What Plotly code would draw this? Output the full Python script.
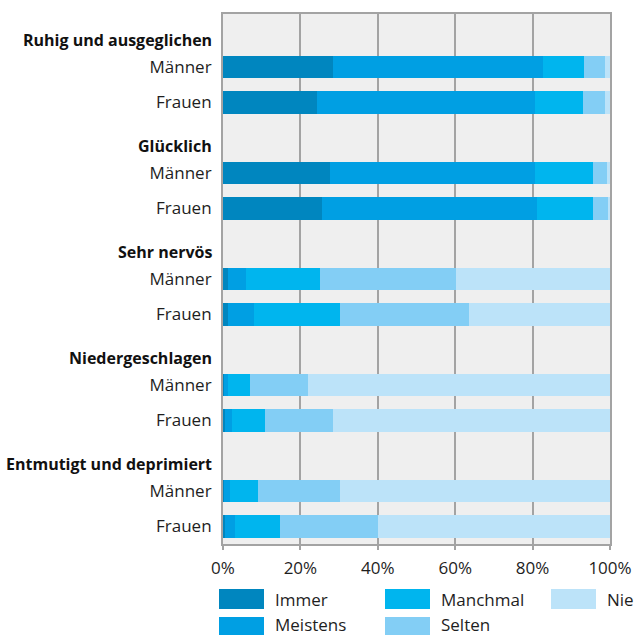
import plotly.graph_objects as go

# Survey items (group headers) and the two respondent groups per item
items = ["Ruhig und ausgeglichen", "Glücklich", "Sehr nervös",
         "Niedergeschlagen", "Entmutigt und deprimiert"]
groups = ["Männer", "Frauen"]

# Answer categories and their colours
categories = ["Immer", "Meistens", "Manchmal", "Selten", "Nie"]
colors = ["#0086bf", "#009fe3", "#00b5ee", "#83cef5", "#bce3f9"]

# Shares in percent, one list per category, ordered item by item (Männer, Frauen)
immer    = [28.5, 24.3, 27.7, 25.6, 1.3, 1.4, 0.3, 0.4, 0.3, 0.4]
meistens = [54.3, 56.4, 52.8, 55.6, 4.7, 6.6, 1.1, 1.9, 1.5, 2.6]
manchmal = [10.6, 12.4, 15.0, 14.5, 19.1, 22.3, 5.6, 8.6, 7.2, 11.7]
selten   = [5.4, 5.7, 3.6, 3.7, 35.2, 33.3, 15.0, 17.6, 21.2, 25.4]
nie      = [1.2, 1.2, 0.9, 0.6, 39.7, 36.4, 78.0, 71.5, 69.8, 59.9]
series = [immer, meistens, manchmal, selten, nie]

x_ticks = [0, 20, 40, 60, 80, 100]
x_ticktext = ["0%", "20%", "40%", "60%", "80%", "100%"]

# Row layout: each item uses three rows (header, Männer, Frauen)
row_pos = []
row_text = []
for i, _ in enumerate(items):
    for j, g in enumerate(groups):
        row_pos.append(3 * i + 1 + j)
        row_text.append(g)

FONT = "Open Sans"
LINE = "#a3a3a3"
TEXT = "#1e1e1e"

fig = go.Figure()
for name, vals, col in zip(categories, series, colors):
    fig.add_trace(go.Bar(
        x=vals, y=row_pos, orientation="h", name=name,
        marker=dict(color=col, line=dict(width=0)),
        width=0.65, showlegend=False, hoverinfo="x+name",
    ))

# Bold item headers
annotations = []
for i, item in enumerate(items):
    annotations.append(dict(
        x=0, xref="paper", y=3 * i + 0.24, yref="y", text=f"<b>{item}</b>",
        showarrow=False, xanchor="right", yanchor="middle", xshift=-9,
        font=dict(family=FONT, size=16, color="#111111"),
    ))

# Custom legend: two rows, three columns with wide swatches
W, H = 635, 635
ML, MR, MT, MB = 223, 25, 14, 91
PW, PH = W - ML - MR, H - MT - MB


def px_x(px):
    return (px - ML) / PW


def px_y(py):
    return (H - MB - py) / PH


# (swatch left, swatch top, label centre) in pixels
legend_slots = [(219, 589, 599), (219, 617, 624), (385, 589, 599),
                (385, 617, 624), (551, 589, 599)]
shapes = []
for (sx, sy, ty), name, col in zip(legend_slots, categories, colors):
    shapes.append(dict(
        type="rect", xref="paper", yref="paper",
        x0=px_x(sx), x1=px_x(sx + 45), y0=px_y(sy), y1=px_y(sy + 20),
        fillcolor=col, line=dict(width=0), layer="above",
    ))
    annotations.append(dict(
        x=px_x(sx + 54), xref="paper", y=px_y(ty), yref="paper",
        text=name, showarrow=False, xanchor="left", yanchor="middle",
        font=dict(family=FONT, size=17, color=TEXT),
    ))

fig.update_layout(
    width=W, height=H,
    margin=dict(l=ML, r=MR, t=MT, b=MB, pad=0, autoexpand=False),
    paper_bgcolor="white", plot_bgcolor="#efefef",
    barmode="stack", bargap=0,
    font=dict(family=FONT, size=17, color=TEXT),
    annotations=annotations, shapes=shapes,
    xaxis=dict(
        range=[0, 100], tickvals=x_ticks, ticktext=x_ticktext,
        showgrid=True, gridcolor=LINE, gridwidth=2,
        showline=True, linecolor=LINE, linewidth=2, mirror=True,
        ticks="outside", ticklen=4, tickcolor=LINE, tickwidth=2,
        ticklabelstandoff=4, automargin=False,
        zeroline=False, fixedrange=True,
        tickfont=dict(family=FONT, size=17, color=TEXT),
    ),
    yaxis=dict(
        range=[14.5, -0.5], tickvals=row_pos, ticktext=row_text,
        showgrid=False, zeroline=False,
        showline=True, linecolor=LINE, linewidth=2, mirror=True,
        ticks="", ticklabelstandoff=6, automargin=False, fixedrange=True,
        tickfont=dict(family=FONT, size=17, color=TEXT),
    ),
)

fig.write_html("out.html")
